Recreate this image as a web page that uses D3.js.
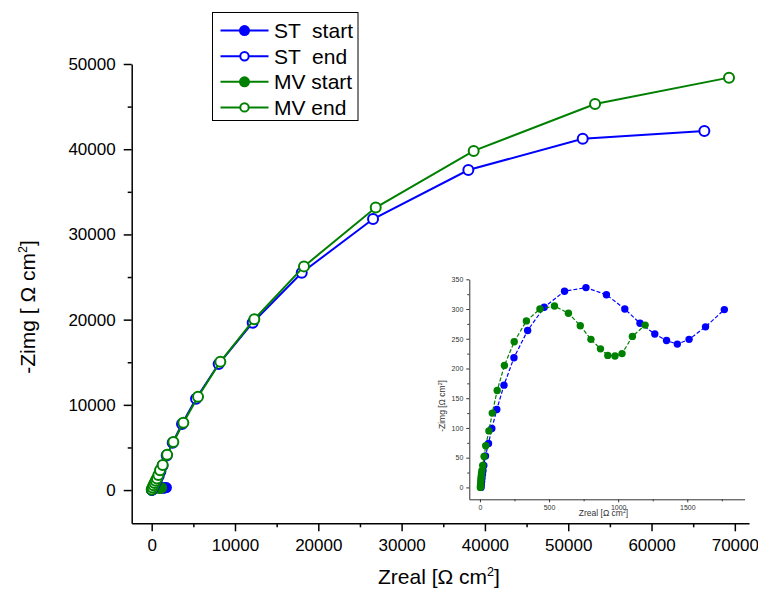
<!DOCTYPE html>
<html>
<head>
<meta charset="utf-8">
<script src="https://cdn.jsdelivr.net/npm/d3@7"></script>
<style>
body { margin: 0; background: #fff; }
text { font-family: "Liberation Sans", Arial, sans-serif; }
</style>
</head>
<body>
<div id="container"></div>
<script>
// series (Zreal, -Zimg in ohm cm2)
const stStartRe = [8, 10, 12, 15, 18, 22, 28, 40, 62, 86, 122, 174, 246, 345, 465, 612, 767, 915, 1048, 1158, 1265, 1350, 1428, 1513, 1632, 1768];
const stStartIm = [0, 5, 10, 16, 22, 28, 37, 53, 74, 99, 131, 172, 218, 264, 303, 330, 336, 324, 300, 276, 258, 247, 241, 249, 270, 299];

const mvStartRe = [3, 4, 5, 6, 7, 9, 11, 14, 20, 30, 42, 65, 89, 125, 177, 248, 336, 434, 539, 640, 726, 803, 872, 925, 977, 1028, 1103, 1195];
const mvStartIm = [0, 3, 6, 10, 14, 18, 23, 28, 37, 52, 70, 95, 125, 163, 205, 245, 280, 300, 305, 293, 272, 249, 233, 222, 221, 225, 254, 273];

const stEndRe = [50, 150, 270, 400, 530, 680, 850, 1050, 1300, 1800, 2520, 3640, 5320, 8040, 12120, 18010, 26570, 38010, 51740, 66340];
const stEndIm = [30, 250, 500, 760, 1020, 1300, 1680, 2200, 2850, 4050, 5550, 7750, 10720, 14790, 19640, 25500, 31810, 37560, 41230, 42140];

const mvEndRe = [0, 100, 220, 350, 480, 630, 800, 1000, 1320, 1850, 2600, 3800, 5560, 8240, 12320, 18280, 26890, 38650, 53220, 69300];
const mvEndIm = [60, 300, 560, 820, 1080, 1370, 1760, 2320, 2950, 4150, 5650, 7900, 10950, 15050, 20050, 26250, 33150, 39800, 45300, 48400];

const xTicks = [0, 10000, 20000, 30000, 40000, 50000, 60000, 70000];
const yTicks = [0, 10000, 20000, 30000, 40000, 50000];
const insetXTicks = [0, 500, 1000, 1500];
const insetYTicks = [0, 50, 100, 150, 200, 250, 300, 350];

const legendLabels = ["ST  start", "ST  end", "MV start", "MV end"];

const blue = "#0000ff";
const green = "#008000";

const w = 758;
const h = 594;
const svg = d3.select("#container")
  .append("svg")
  .attr("width", w)
  .attr("height", h);

function zip(a, b) {
  return a.map((v, i) => [v, b[i]]);
}

// main axes
const x = d3.scaleLinear().domain([-2400, 71700]).range([131.7, 749]);
const y = d3.scaleLinear().domain([-3900, 50000]).range([523.3, 64]);

function styleAxis(g, fs) {
  g.select(".domain").attr("stroke", "#000").attr("stroke-width", 1.5);
  g.selectAll(".tick line").attr("stroke", "#000").attr("stroke-width", 1.5);
  g.selectAll(".tick text").attr("fill", "#000").style("font-size", fs + "px")
    .style("font-family", "'Liberation Sans', Arial, sans-serif");
}

const xAxis = svg.append("g")
  .attr("transform", "translate(0," + y.range()[0] + ")")
  .call(d3.axisBottom(x).tickValues(xTicks).tickSize(8).tickSizeOuter(0).tickPadding(8).tickFormat(d3.format("d")));
styleAxis(xAxis, 17);

svg.append("g")
  .attr("transform", "translate(0," + y.range()[0] + ")")
  .call(d3.axisBottom(x).tickValues(d3.range(5000, 70000, 10000)).tickSize(4).tickFormat(""))
  .call(g => g.select(".domain").remove())
  .call(g => g.selectAll("line").attr("stroke", "#000").attr("stroke-width", 1.5));

const yAxis = svg.append("g")
  .attr("transform", "translate(" + x.range()[0] + ",0)")
  .call(d3.axisLeft(y).tickValues(yTicks).tickSize(8).tickSizeOuter(0).tickPadding(8).tickFormat(d3.format("d")));
styleAxis(yAxis, 17);

svg.append("g")
  .attr("transform", "translate(" + x.range()[0] + ",0)")
  .call(d3.axisLeft(y).tickValues(d3.range(5000, 50000, 10000)).tickSize(4).tickFormat(""))
  .call(g => g.select(".domain").remove())
  .call(g => g.selectAll("line").attr("stroke", "#000").attr("stroke-width", 1.5));

// axis titles with Ω cm² unit
function unitTitle(t, pre, fs) {
  t.style("font-size", fs + "px").attr("fill", "#000");
  t.append("tspan").text(pre);
  t.append("tspan").text("2").attr("dy", -fs * 0.4).style("font-size", (fs * 0.6) + "px");
  t.append("tspan").text("]").attr("dy", fs * 0.4);
}

svg.append("text")
  .attr("x", 439)
  .attr("y", 584)
  .attr("text-anchor", "middle")
  .call(t => unitTitle(t, "Zreal [\u03A9 cm", 21));

svg.append("text")
  .attr("transform", "translate(35,307) rotate(-90)")
  .attr("text-anchor", "middle")
  .call(t => unitTitle(t, "-Zimg [ \u03A9 cm", 21));

// main series
const line = d3.line().x(d => x(d[0])).y(d => y(d[1]));

const mainSeries = [
  { data: zip(stStartRe, stStartIm), color: blue, filled: true },
  { data: zip(mvStartRe, mvStartIm), color: green, filled: true },
  { data: zip(stEndRe, stEndIm), color: blue, filled: false },
  { data: zip(mvEndRe, mvEndIm), color: green, filled: false }
];

mainSeries.forEach(s => {
  svg.append("path")
    .datum(s.data)
    .attr("d", line)
    .attr("fill", "none")
    .attr("stroke", s.color)
    .attr("stroke-width", 2);
  svg.append("g")
    .selectAll("circle")
    .data(s.data)
    .enter()
    .append("circle")
    .attr("cx", d => x(d[0]))
    .attr("cy", d => y(d[1]))
    .attr("r", s.filled ? 5.5 : 5)
    .attr("fill", s.filled ? s.color : "#fff")
    .attr("stroke", s.color)
    .attr("stroke-width", s.filled ? 0 : 2);
});

// legend
const legend = svg.append("g");
legend.append("rect")
  .attr("x", 212.5)
  .attr("y", 12.5)
  .attr("width", 145.5)
  .attr("height", 108)
  .attr("fill", "#fff")
  .attr("stroke", "#000")
  .attr("stroke-width", 1);

const legendStyle = [
  { color: blue, filled: true },
  { color: blue, filled: false },
  { color: green, filled: true },
  { color: green, filled: false }
];

legendLabels.forEach((lab, i) => {
  const ry = 30.6 + i * 25.6;
  const st = legendStyle[i];
  legend.append("line")
    .attr("x1", 220.5).attr("x2", 268.5)
    .attr("y1", ry).attr("y2", ry)
    .attr("stroke", st.color).attr("stroke-width", 2);
  legend.append("circle")
    .attr("cx", 244.5).attr("cy", ry)
    .attr("r", st.filled ? 5.5 : 4.2)
    .attr("fill", st.filled ? st.color : "#fff")
    .attr("stroke", st.color)
    .attr("stroke-width", st.filled ? 0 : 2);
  legend.append("text")
    .attr("x", 274)
    .attr("y", ry + 7.5)
    .attr("xml:space", "preserve")
    .style("white-space", "pre")
    .style("font-size", "21px")
    .attr("fill", "#000")
    .text(lab);
});

// inset
const xi = d3.scaleLinear().domain([-77, 1914]).range([469.3, 744.5]);
const yi = d3.scaleLinear().domain([-20, 350]).range([499.3, 279.3]);

function styleInset(g) {
  g.select(".domain").attr("stroke", "#333").attr("stroke-width", 1);
  g.selectAll(".tick line").attr("stroke", "#333").attr("stroke-width", 1);
  g.selectAll(".tick text").attr("fill", "#333").style("font-size", "7px")
    .style("font-family", "'Liberation Sans', Arial, sans-serif");
}

const ixAxis = svg.append("g")
  .attr("transform", "translate(0," + yi.range()[0] + ")")
  .call(d3.axisBottom(xi).tickValues(insetXTicks).tickSize(3).tickSizeOuter(0).tickPadding(3).tickFormat(d3.format("d")));
styleInset(ixAxis);

svg.append("g")
  .attr("transform", "translate(0," + yi.range()[0] + ")")
  .call(d3.axisBottom(xi).tickValues(d3.range(250, 1914, 500)).tickSize(2).tickFormat(""))
  .call(g => g.select(".domain").remove())
  .call(g => g.selectAll("line").attr("stroke", "#333"));

const iyAxis = svg.append("g")
  .attr("transform", "translate(" + xi.range()[0] + ",0)")
  .call(d3.axisLeft(yi).tickValues(insetYTicks).tickSize(3).tickSizeOuter(0).tickPadding(3).tickFormat(d3.format("d")));
styleInset(iyAxis);

svg.append("g")
  .attr("transform", "translate(" + xi.range()[0] + ",0)")
  .call(d3.axisLeft(yi).tickValues(d3.range(25, 350, 50)).tickSize(2).tickFormat(""))
  .call(g => g.select(".domain").remove())
  .call(g => g.selectAll("line").attr("stroke", "#333"));

svg.append("text")
  .attr("x", 603.5)
  .attr("y", 516)
  .attr("text-anchor", "middle")
  .call(t => unitTitle(t, "Zreal [\u03A9 cm", 8.5))
  .attr("fill", "#333");

svg.append("text")
  .attr("transform", "translate(445,406) rotate(-90)")
  .attr("text-anchor", "middle")
  .call(t => unitTitle(t, "-Zimg [\u03A9 cm", 8.5))
  .attr("fill", "#333");

const iline = d3.line().x(d => xi(d[0])).y(d => yi(d[1]));

const insetSeries = [
  { data: zip(stStartRe, stStartIm), color: blue },
  { data: zip(mvStartRe, mvStartIm), color: green }
];

insetSeries.forEach(s => {
  svg.append("path")
    .datum(s.data)
    .attr("d", iline)
    .attr("fill", "none")
    .attr("stroke", s.color)
    .attr("stroke-width", 1.2)
    .attr("stroke-dasharray", "4,2");
  svg.append("g")
    .selectAll("circle")
    .data(s.data)
    .enter()
    .append("circle")
    .attr("cx", d => xi(d[0]))
    .attr("cy", d => yi(d[1]))
    .attr("r", 3.7)
    .attr("fill", s.color);
});
</script>
</body>
</html>
